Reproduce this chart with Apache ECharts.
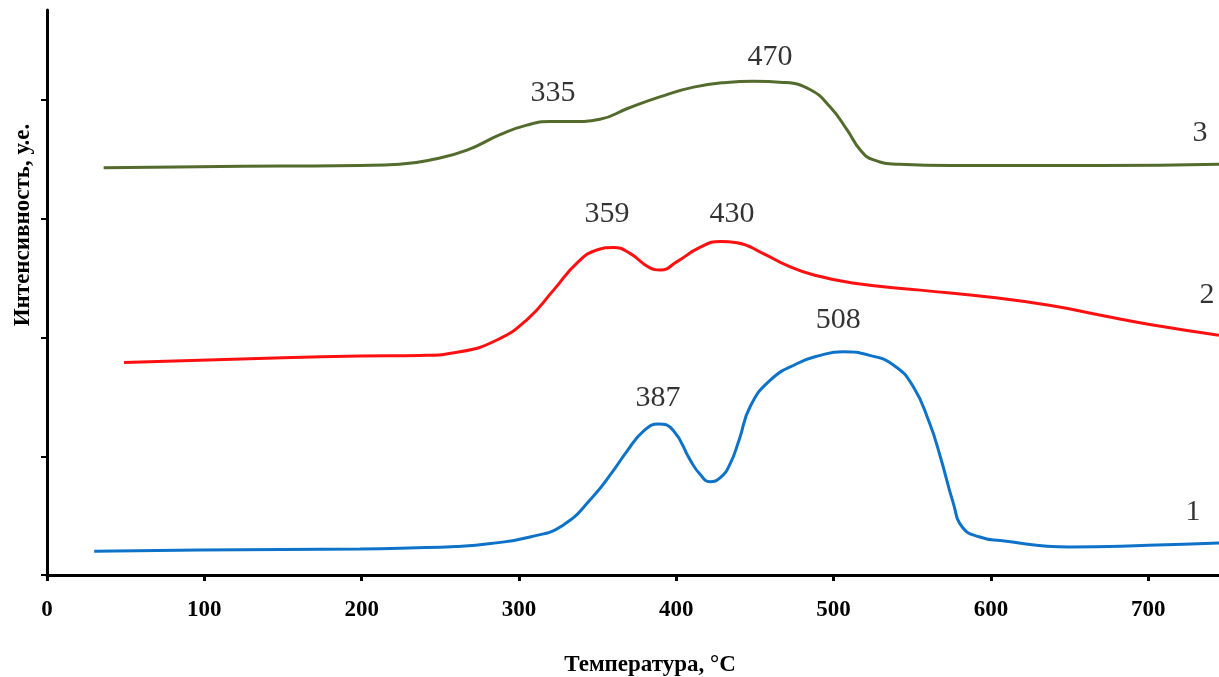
<!DOCTYPE html>
<html><head><meta charset="utf-8">
<script src="https://cdn.jsdelivr.net/npm/echarts@6/dist/echarts.min.js"></script>
<style>html,body{margin:0;padding:0;background:#fff}#c{width:1219px;height:677px}</style>
</head><body><div id="c"></div>
<script>
// Temperature (°C) and intensity (arb. units, 1 = one y tick)
const curve1T = [30,97,150,199,230,260,282,307,328,347,360,368.5,379,388.6,398,408.8,415,421.5,428,434,440,447,459.6,476.6,491.4,506,523,538,550.5,561,568,576,582,593,606,650,700,745];
const curve1V = [0.20,0.21,0.215,0.22,0.228,0.24,0.265,0.32,0.42,0.66,0.88,1.04,1.21,1.272,1.22,0.97,0.85,0.786,0.82,0.93,1.14,1.42,1.64,1.78,1.85,1.88,1.85,1.77,1.59,1.28,0.99,0.61,0.40,0.32,0.29,0.236,0.25,0.27];
const curve2T = [49,97,150,199,237,262.5,286,305,322,337,350,360,370.6,383,390,400.5,415,428,438.6,455,470,487,512,555,600,638,669,701,745];
const curve2V = [1.79,1.81,1.83,1.845,1.85,1.88,1.98,2.15,2.40,2.63,2.74,2.76,2.71,2.59,2.57,2.64,2.76,2.81,2.80,2.71,2.61,2.53,2.46,2.40,2.34,2.27,2.19,2.11,2.02];
const curve3T = [36,97,150,199,224,245,267,288,305,320,334,351.5,369,390,411,432,449,468,485,498,508.6,517,525,542,575,606,669,745];
const curve3V = [3.43,3.44,3.445,3.45,3.46,3.50,3.58,3.71,3.79,3.82,3.82,3.84,3.93,4.03,4.11,4.15,4.16,4.15,4.09,3.94,3.75,3.58,3.50,3.46,3.45,3.45,3.45,3.46];
const xTicks = [0,100,200,300,400,500,600,700];
const yTicks = [0,1,2,3,4];
const annText = ['335','470','359','430','387','508','1','2','3'];
const annT = [321.7,459.6,356,435.5,388.4,502.9,728.5,737.4,733];
const annV = [4.06,4.36,3.04,3.04,1.49,2.15,0.53,2.36,3.72];
const xTitle = 'Температура, °С';
const yTitle = 'Интенсивность, у.е.';

const zip = (a,b) => a.map((v,i)=>[v,b[i]]);
const chart = echarts.init(document.getElementById('c'));
const serif = '"Liberation Serif","DejaVu Serif",serif';
const lineSeries = (data,color) => ({type:'line',data,smooth:0.5,showSymbol:false,symbol:'none',lineStyle:{color,width:3},animation:false});
chart.setOption({
  animation:false,
  grid:{left:47,right:0,top:10,bottom:102},
  xAxis:{type:'value',min:0,max:745,interval:100,
    axisLine:{lineStyle:{color:'#000',width:3}},
    axisTick:{show:true,length:6,lineStyle:{color:'#000',width:3},customValues:xTicks},
    axisLabel:{customValues:xTicks,color:'#000',fontFamily:serif,fontWeight:'bold',fontSize:23,margin:24},
    splitLine:{show:false}},
  yAxis:{type:'value',min:0,max:4.76,interval:1,
    axisLine:{show:true,lineStyle:{color:'#000',width:3}},
    axisTick:{show:true,length:6,lineStyle:{color:'#000',width:2},customValues:yTicks},
    axisLabel:{show:false},
    splitLine:{show:false}},
  graphic:[
    {type:'text',x:650,y:665,style:{text:xTitle,font:'bold 23px '+serif,fill:'#000',align:'center',verticalAlign:'middle'}},
    {type:'text',x:23,y:225,rotation:Math.PI/2,style:{text:yTitle,font:'bold 23px '+serif,fill:'#000',align:'center',verticalAlign:'middle'}}
  ],
  series:[
    lineSeries(zip(curve1T,curve1V),'#0e73c8'),
    lineSeries(zip(curve2T,curve2V),'#ff1010'),
    lineSeries(zip(curve3T,curve3V),'#536b2c'),
    {type:'scatter',data:zip(annT,annV),symbolSize:0,silent:true,
     label:{show:true,position:'inside',formatter:p=>annText[p.dataIndex],fontFamily:serif,fontSize:30,color:'#000'}}
  ]
});
</script></body></html>
